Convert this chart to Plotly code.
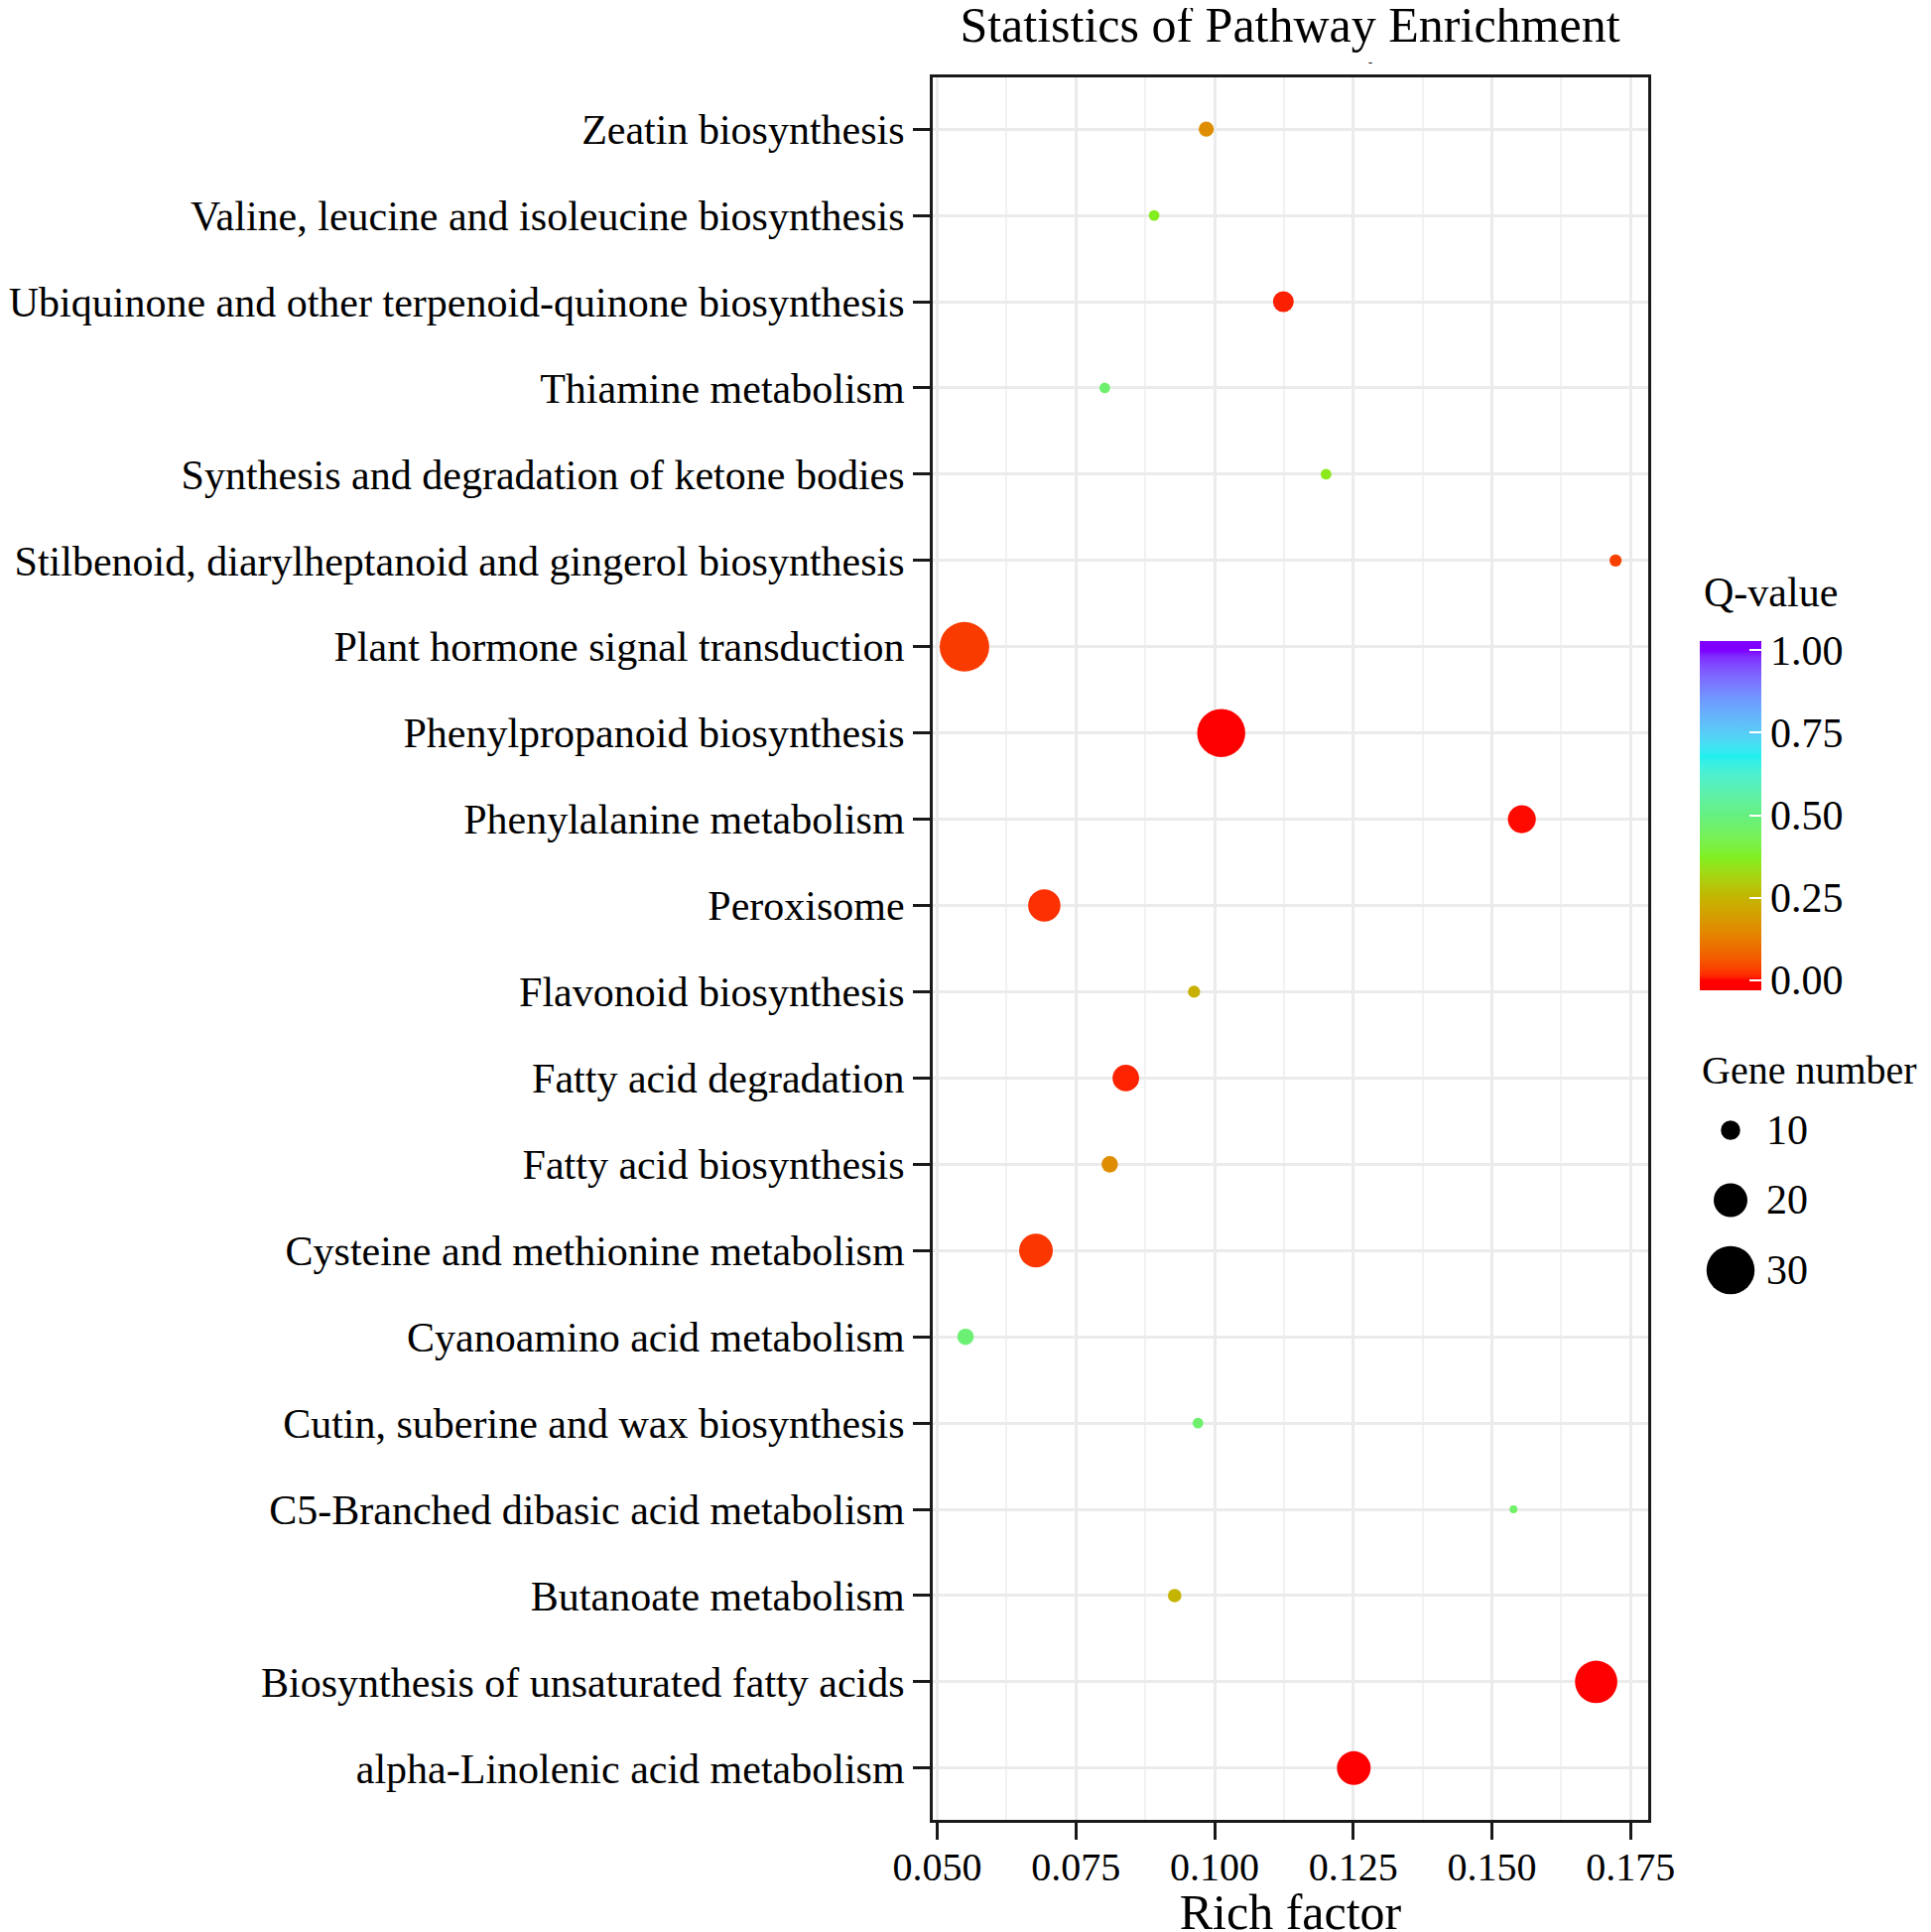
import numpy as np
import plotly.graph_objects as go

# ---------------- data ----------------
pathways = [
    "alpha-Linolenic acid metabolism",
    "Biosynthesis of unsaturated fatty acids",
    "Butanoate metabolism",
    "C5-Branched dibasic acid metabolism",
    "Cutin, suberine and wax biosynthesis",
    "Cyanoamino acid metabolism",
    "Cysteine and methionine metabolism",
    "Fatty acid biosynthesis",
    "Fatty acid degradation",
    "Flavonoid biosynthesis",
    "Peroxisome",
    "Phenylalanine metabolism",
    "Phenylpropanoid biosynthesis",
    "Plant hormone signal transduction",
    "Stilbenoid, diarylheptanoid and gingerol biosynthesis",
    "Synthesis and degradation of ketone bodies",
    "Thiamine metabolism",
    "Ubiquinone and other terpenoid-quinone biosynthesis",
    "Valine, leucine and isoleucine biosynthesis",
    "Zeatin biosynthesis",
]
rich_factor = [0.1251, 0.1688, 0.0928, 0.1539, 0.0970, 0.0551, 0.0678, 0.0811,
               0.0840, 0.0963, 0.0693, 0.1554, 0.1012, 0.0549, 0.1723, 0.1201,
               0.0802, 0.1124, 0.0891, 0.0985]
gene_number = [20, 26, 6, 2, 4, 8, 20, 8, 15, 5, 19, 16, 30, 31, 5, 4, 4, 11, 4, 7]
q_value = [0.0, 0.0, 0.25, 0.46, 0.47, 0.48, 0.025, 0.16, 0.012, 0.24, 0.02,
           0.003, 0.0, 0.03, 0.035, 0.36, 0.47, 0.01, 0.37, 0.16]
size_breaks = [10, 20, 30]
x_ticks = [0.050, 0.075, 0.100, 0.125, 0.150, 0.175]
q_ticks = [0.0, 0.25, 0.5, 0.75, 1.0]

# ---------------- layout geometry (figure pixels) ----------------
FONT = "Liberation Serif"
W, H = 1946, 1947
L_M, T_M = 932, 70
PH = 1756
B_M = H - T_M - PH
PW = W - L_M
PLOT_W = 721


def px(X):
    return (X - L_M) / PW


def py(Y):
    return (T_M + PH - Y) / PH


def size_px(g):
    return 5 + 1.45 * np.asarray(g, dtype=float)


# ---------------- colour scale (Lab interpolation) ----------------
def _lin(c):
    c = c / 255.0
    return np.where(c <= 0.04045, c / 12.92, ((c + 0.055) / 1.055) ** 2.4)


def _delin(c):
    c = np.clip(c, 0, None)
    c = np.where(c <= 0.0031308, 12.92 * c, 1.055 * np.power(c, 1 / 2.4) - 0.055)
    return np.clip(np.round(c * 255), 0, 255).astype(int)


M = np.array([[0.4124, 0.3576, 0.1805], [0.2126, 0.7152, 0.0722], [0.0193, 0.1192, 0.9505]])
Minv = np.linalg.inv(M)
WP = np.array([0.95047, 1.0, 1.08883])


def hex2lab(h):
    rgb = np.array([int(h[i:i + 2], 16) for i in (1, 3, 5)], dtype=float)
    xyz = M @ _lin(rgb) / WP
    f = np.where(xyz > 0.008856, np.cbrt(xyz), 7.787 * xyz + 16 / 116)
    return np.array([116 * f[1] - 16, 500 * (f[0] - f[1]), 200 * (f[1] - f[2])])


def lab2hex(lab):
    fy = (lab[0] + 16) / 116
    fx = fy + lab[1] / 500
    fz = fy - lab[2] / 200
    f = np.array([fx, fy, fz])
    xyz = np.where(f ** 3 > 0.008856, f ** 3, (f - 16 / 116) / 7.787) * WP
    rgb = _delin(Minv @ xyz)
    return "#%02x%02x%02x" % tuple(rgb)


anchors = [(0.0, "#FF0000"), (0.25, "#C4B400"), (0.375, "#7FF020"), (0.5, "#66F080"),
           (0.68, "#20F0F0"), (0.85, "#6E9BFF"), (1.0, "#7F00FF")]


def color_at(v):
    v = min(max(v, 0.0), 1.0)
    for (p0, c0), (p1, c1) in zip(anchors[:-1], anchors[1:]):
        if p0 <= v <= p1:
            u = (v - p0) / (p1 - p0)
            return lab2hex((1 - u) * hex2lab(c0) + u * hex2lab(c1))
    return anchors[-1][1]


CMIN, CMAX = -0.03, 1.03
colorscale = [[float(t), color_at(CMIN + t * (CMAX - CMIN))] for t in np.linspace(0, 1, 107)]

# ---------------- figure ----------------
fig = go.Figure()

fig.add_trace(go.Scatter(
    x=rich_factor, y=pathways, mode="markers",
    marker=dict(size=size_px(gene_number), sizemode="diameter",
                color=q_value, colorscale=colorscale, cmin=CMIN, cmax=CMAX,
                line=dict(width=0), opacity=1,
                colorbar=dict(
                    x=px(1705), xanchor="left", xref="paper", xpad=0,
                    y=py(813.5), yanchor="middle", ypad=0,
                    len=351.5, lenmode="pixels", thickness=62, thicknessmode="pixels",
                    outlinewidth=0, tickvals=q_ticks,
                    ticktext=["%.2f" % v for v in q_ticks],
                    ticks="inside", ticklen=12, tickwidth=2, tickcolor="white",
                    tickfont=dict(family=FONT, size=42, color="black"),
                )),
    showlegend=False, hoverinfo="x+y",
))

# size legend drawn on hidden axes
fig.add_trace(go.Scatter(
    x=[0] * len(size_breaks), y=size_breaks, mode="markers",
    marker=dict(size=size_px(size_breaks), sizemode="diameter", color="#000000",
                opacity=1, line=dict(width=0)),
    xaxis="x2", yaxis="y2", showlegend=False, hoverinfo="skip", cliponaxis=False,
))

for b in size_breaks:
    fig.add_annotation(x=1.7, y=b, xref="x2", yref="y2", text=str(b),
                       showarrow=False, xanchor="left", yanchor="middle",
                       font=dict(family=FONT, size=42, color="black"))

fig.add_annotation(x=px(1707), y=py(589), xref="paper", yref="paper",
                   text="Q-value", showarrow=False, xanchor="left", yanchor="middle",
                   font=dict(family=FONT, size=42, color="black"))
fig.add_annotation(x=px(1705), y=py(1070), xref="paper", yref="paper",
                   text="Gene number", showarrow=False, xanchor="left", yanchor="middle",
                   font=dict(family=FONT, size=40, color="black"))
# small mark below the title in the original
fig.add_annotation(x=px(1373), y=py(55), xref="paper", yref="paper",
                   text="-", showarrow=False, xanchor="center", yanchor="middle",
                   font=dict(family=FONT, size=12, color="black"))

xr = [0.04919, 0.17818]
fig.update_layout(
    width=W, height=H,
    margin=dict(l=L_M, r=0, t=T_M, b=B_M, pad=0, autoexpand=False),
    paper_bgcolor="white", plot_bgcolor="white",
    font=dict(family=FONT, size=42, color="black"),
    title=dict(text="Statistics of Pathway Enrichment", x=1292 / W, xref="container",
               xanchor="center", y=1 - 16 / H, yref="container", yanchor="middle",
               font=dict(family=FONT, size=50, color="black")),
    xaxis=dict(
        domain=[0, PLOT_W / PW], range=xr, tickvals=x_ticks,
        ticktext=["%.3f" % v for v in x_ticks],
        showgrid=True, gridcolor="#EBEBEB", gridwidth=2.5,
        minor=dict(showgrid=True, gridcolor="#F2F2F2", gridwidth=1.5, dtick=0.0125, tick0=0.05),
        showline=True, linecolor="#1a1a1a", linewidth=3, mirror=True,
        ticks="outside", ticklen=17, tickwidth=2.5, tickcolor="#1a1a1a",
        ticklabelstandoff=-7,
        tickfont=dict(family=FONT, size=40, color="black"),
        title=dict(text="Rich factor", font=dict(family=FONT, size=50, color="black"), standoff=17),
        zeroline=False, automargin=False,
    ),
    yaxis=dict(
        domain=[0, 1], type="category", categoryorder="array", categoryarray=pathways,
        range=[-0.6, len(pathways) - 0.4],
        showgrid=True, gridcolor="#EBEBEB", gridwidth=2.5,
        showline=True, linecolor="#1a1a1a", linewidth=3, mirror=True,
        ticks="outside", ticklen=17, tickwidth=2.5, tickcolor="#1a1a1a",
        tickfont=dict(family=FONT, size=42, color="black"),
        zeroline=False, automargin=False,
    ),
    xaxis2=dict(domain=[px(1696), px(1896)], range=[-2, 8], visible=False,
                anchor="y2", fixedrange=True, automargin=False),
    yaxis2=dict(domain=[py(1292), py(1112)], range=[32.84, 7.305], visible=False,
                anchor="x2", fixedrange=True, automargin=False),
)

fig.write_html("out.html")
